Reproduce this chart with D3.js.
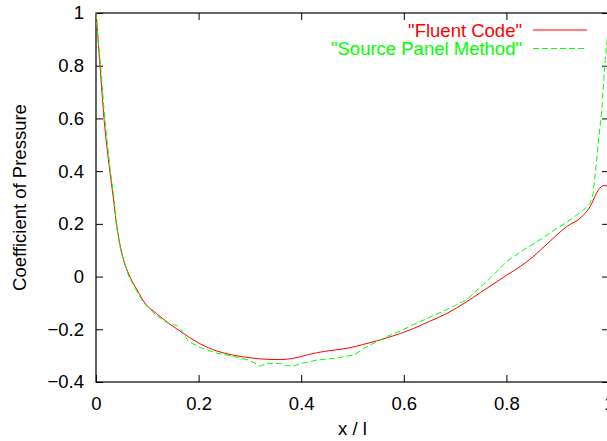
<!DOCTYPE html>
<html>
<head>
<meta charset="utf-8">
<script src="https://cdn.jsdelivr.net/npm/d3@7/dist/d3.min.js"></script>
<style>
  body { margin: 0; background: #fff; }
  svg { display: block; }
  text { font-family: "Liberation Sans", Arial, Helvetica, sans-serif; font-size: 18.5px; }
</style>
</head>
<body>
<svg id="chart" width="607" height="441"></svg>
<script>
// Fluent Code
var fluentX = [0, 0.004, 0.0078, 0.0156, 0.027, 0.033, 0.04, 0.049, 0.066, 0.08, 0.095, 0.118,
    0.14, 0.164, 0.183, 0.203, 0.235, 0.267, 0.30, 0.333, 0.359, 0.385, 0.41, 0.43, 0.46, 0.495, 0.52,
    0.547, 0.57, 0.593, 0.619, 0.65, 0.684, 0.722, 0.75, 0.781, 0.80, 0.827, 0.852, 0.88, 0.917, 0.947,
    0.963, 0.979, 0.989, 1.0];
var fluentY = [1, 0.9, 0.8, 0.6, 0.4, 0.31, 0.2, 0.1, 0, -0.05, -0.1, -0.14,
    -0.175, -0.207, -0.232, -0.255, -0.282, -0.298, -0.308, -0.314, -0.315, -0.31, -0.298, -0.289, -0.28, -0.27, -0.258,
    -0.244, -0.231, -0.216, -0.197, -0.17, -0.14, -0.096, -0.06, -0.02, 0.005, 0.038, 0.075, 0.125, 0.189, 0.227,
    0.265, 0.328, 0.345, 0.345];

// Source Panel Method
var panelX = [0, 0.004, 0.009, 0.017, 0.028, 0.035, 0.04, 0.048, 0.064, 0.078, 0.093, 0.116,
    0.141, 0.157, 0.164, 0.18, 0.203, 0.235, 0.268, 0.30, 0.32, 0.333, 0.359, 0.372, 0.385, 0.398, 0.43,
    0.465, 0.502, 0.528, 0.567, 0.593, 0.619, 0.684, 0.722, 0.768, 0.80, 0.833, 0.865, 0.898, 0.917, 0.95,
    0.963, 0.969, 0.976, 0.979, 0.986, 0.992, 0.997, 1.0];
var panelY = [1, 0.9, 0.8, 0.6, 0.4, 0.3, 0.19, 0.1, 0, -0.05, -0.1, -0.145,
    -0.178, -0.185, -0.197, -0.245, -0.269, -0.29, -0.303, -0.318, -0.34, -0.329, -0.33, -0.338, -0.34, -0.33, -0.317,
    -0.31, -0.298, -0.266, -0.228, -0.207, -0.182, -0.125, -0.089, -0.007, 0.056, 0.101, 0.139, 0.183, 0.205, 0.252,
    0.278, 0.316, 0.442, 0.505, 0.632, 0.809, 0.91, 0.96];

var xTicks = [0, 0.2, 0.4, 0.6, 0.8, 1];
var yTicks = [-0.4, -0.2, 0, 0.2, 0.4, 0.6, 0.8, 1];

var seriesNames = ["\"Fluent Code\"", "\"Source Panel Method\""];
var seriesColors = ["#ff0000", "#00ff00"];

var svg = d3.select("#chart");

var margin = { left: 96, right: 609, top: 13, bottom: 382 };

var xScale = d3.scaleLinear().domain([0, 1]).range([margin.left, margin.right]);
var yScale = d3.scaleLinear().domain([-0.4, 1]).range([margin.bottom, margin.top]);

var tickLen = 7;

// bottom & top axes
svg.append("g")
    .attr("transform", "translate(0," + margin.bottom + ")")
    .call(d3.axisBottom(xScale).tickValues(xTicks).tickSize(-tickLen).tickPadding(15).tickFormat(d3.format("")))
    .call(function (g) { g.select(".domain").remove(); });

svg.append("g")
    .attr("transform", "translate(0," + margin.top + ")")
    .call(d3.axisTop(xScale).tickValues(xTicks).tickSize(-tickLen).tickFormat(""))
    .call(function (g) { g.select(".domain").remove(); });

// left & right axes
svg.append("g")
    .attr("transform", "translate(" + margin.left + ",0)")
    .call(d3.axisLeft(yScale).tickValues(yTicks).tickSize(-tickLen).tickPadding(12).tickFormat(d3.format("")))
    .call(function (g) { g.select(".domain").remove(); });

svg.append("g")
    .attr("transform", "translate(" + margin.right + ",0)")
    .call(d3.axisRight(yScale).tickValues(yTicks).tickSize(-tickLen).tickFormat(""))
    .call(function (g) { g.select(".domain").remove(); });

svg.selectAll(".tick line").attr("stroke", "#000").attr("stroke-width", 1);
svg.selectAll(".tick text").attr("fill", "#000").style("font-size", "18.5px")
    .style("font-family", "'Liberation Sans', Arial, sans-serif");

// border
svg.append("rect")
    .attr("x", margin.left).attr("y", margin.top)
    .attr("width", margin.right - margin.left).attr("height", margin.bottom - margin.top)
    .attr("fill", "none").attr("stroke", "#000").attr("stroke-width", 1.2);

var smoothLine = d3.line()
    .x(function (d) { return xScale(d[0]); })
    .y(function (d) { return yScale(d[1]); })
    .curve(d3.curveMonotoneX);

var line = d3.line()
    .x(function (d) { return xScale(d[0]); })
    .y(function (d) { return yScale(d[1]); });

var fluent = fluentX.map(function (x, i) { return [x, fluentY[i]]; });
var panel = panelX.map(function (x, i) { return [x, panelY[i]]; });

svg.append("path")
    .datum(fluent)
    .attr("d", smoothLine)
    .attr("fill", "none")
    .attr("stroke", seriesColors[0])
    .attr("stroke-width", 1);

svg.append("path")
    .datum(panel)
    .attr("d", line)
    .attr("fill", "none")
    .attr("stroke", seriesColors[1])
    .attr("stroke-width", 1)
    .attr("stroke-dasharray", "6,3");

// legend
var legend = svg.append("g");
seriesNames.forEach(function (name, i) {
    var y = 30 + i * 18.5;
    legend.append("text")
        .attr("x", 522).attr("y", y + 6.5)
        .attr("text-anchor", "end")
        .attr("fill", seriesColors[i])
        .text(name);
    legend.append("line")
        .attr("x1", 533).attr("x2", 587)
        .attr("y1", y).attr("y2", y)
        .attr("stroke", seriesColors[i])
        .attr("stroke-width", 1)
        .attr("stroke-dasharray", i === 1 ? "6,3" : null);
});

// axis labels
svg.append("text")
    .attr("x", (margin.left + margin.right) / 2).attr("y", 435)
    .attr("text-anchor", "middle")
    .text("x / l");

svg.append("text")
    .attr("transform", "translate(26," + ((margin.top + margin.bottom) / 2) + ") rotate(-90)")
    .attr("text-anchor", "middle")
    .text("Coefficient of Pressure");
</script>
</body>
</html>
